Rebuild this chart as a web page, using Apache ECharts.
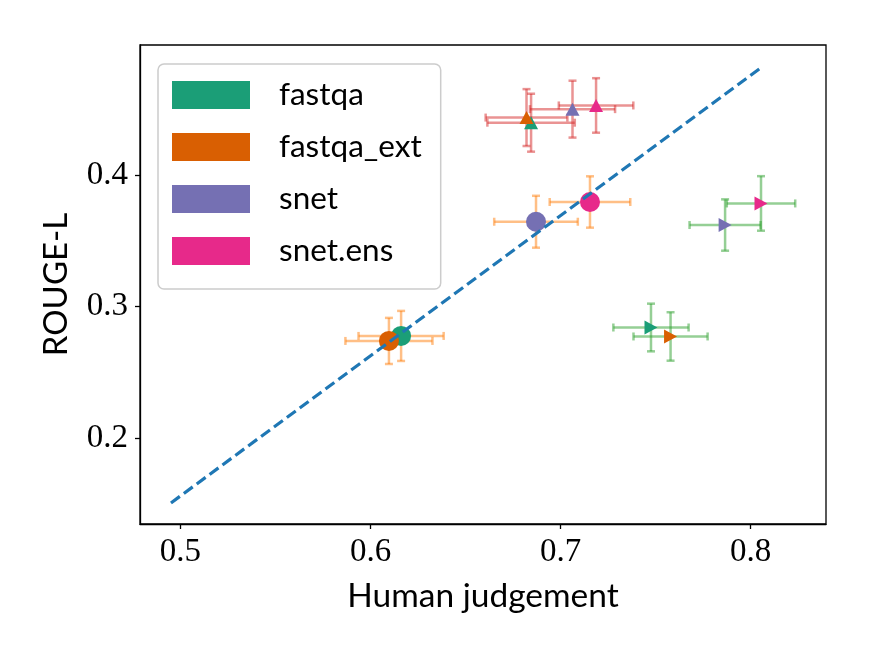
<!DOCTYPE html>
<html>
<head>
<meta charset="utf-8">
<script src="https://cdn.jsdelivr.net/npm/echarts@6/dist/echarts.min.js"></script>
<style>html,body{margin:0;padding:0;background:#fff}#c{width:871px;height:654px}</style>
</head>
<body>
<div id="c"></div>
<script>
// ---- data ----
const models = ['fastqa', 'fastqa_ext', 'snet', 'snet.ens'];
const modelColors = ['#1b9e77', '#d95f02', '#7570b3', '#e7298a'];

// circle markers (orange error bars)
const circleX = [0.6161, 0.6097, 0.6871, 0.7155];
const circleY = [0.2778, 0.2740, 0.3645, 0.3795];
const circleXErr = [0.0224, 0.0229, 0.0220, 0.0212];
const circleYErr = [0.0190, 0.0175, 0.0197, 0.0195];

// upward triangle markers (red error bars)
const triUpX = [0.6845, 0.6821, 0.7063, 0.7187];
const triUpY = [0.4397, 0.4436, 0.4500, 0.4528];
const triUpXErr = [0.0230, 0.0215, 0.0224, 0.0196];
const triUpYErr = [0.0220, 0.0216, 0.0216, 0.0207];

// right-pointing triangle markers (green error bars)
const triRightX = [0.7476, 0.7579, 0.7866, 0.8055];
const triRightY = [0.2842, 0.2774, 0.3620, 0.3784];
const triRightXErr = [0.0198, 0.0195, 0.0187, 0.0180];
const triRightYErr = [0.0181, 0.0184, 0.0195, 0.0207];

// diagonal reference line
const diagX = [0.495, 0.806];
const diagY = [0.151, 0.482];

const xTicks = [0.5, 0.6, 0.7, 0.8];
const yTicks = [0.2, 0.3, 0.4];

// ---- chart ----
const chart = echarts.init(document.getElementById('c'), null, {renderer: 'canvas'});

function errRender(color) {
  return function (params, api) {
    const x = api.value(0), y = api.value(1), xe = api.value(2), ye = api.value(3);
    const l = api.coord([x - xe, y]), r = api.coord([x + xe, y]);
    const t = api.coord([x, y + ye]), b = api.coord([x, y - ye]);
    const c = 4;
    const st = {stroke: color, lineWidth: 2.5, opacity: 0.5};
    const ln = (x1, y1, x2, y2) => ({type: 'line', shape: {x1, y1, x2, y2}, style: st});
    return {
      type: 'group',
      children: [
        ln(l[0], l[1], r[0], r[1]),
        ln(t[0], t[1], b[0], b[1]),
        ln(l[0], l[1] - c, l[0], l[1] + c),
        ln(r[0], r[1] - c, r[0], r[1] + c),
        ln(t[0] - c, t[1], t[0] + c, t[1]),
        ln(b[0] - c, b[1], b[0] + c, b[1])
      ]
    };
  };
}

function errData(xs, ys, xe, ye) {
  return xs.map((v, i) => [v, ys[i], xe[i], ye[i]]);
}

const series = [];
series.push({type: 'custom', name: 'err_circle', renderItem: errRender('#ff7f0e'),
  data: errData(circleX, circleY, circleXErr, circleYErr), encode: {x: 0, y: 1}, z: 1, silent: true});
series.push({type: 'custom', name: 'err_up', renderItem: errRender('#d62728'),
  data: errData(triUpX, triUpY, triUpXErr, triUpYErr), encode: {x: 0, y: 1}, z: 1, silent: true});
series.push({type: 'custom', name: 'err_right', renderItem: errRender('#2ca02c'),
  data: errData(triRightX, triRightY, triRightXErr, triRightYErr), encode: {x: 0, y: 1}, z: 1, silent: true});

models.forEach((m, i) => {
  series.push({
    type: 'scatter', name: m, z: 3,
    itemStyle: {color: modelColors[i], opacity: 1},
    data: [
      {value: [circleX[i], circleY[i]], symbol: 'circle', symbolSize: 20},
      {value: [triUpX[i], triUpY[i]], symbol: 'triangle', symbolSize: [14, 13]},
      {value: [triRightX[i], triRightY[i]], symbol: 'triangle', symbolSize: [14, 13], symbolRotate: -90}
    ]
  });
});

series.push({
  type: 'line', name: 'diag', z: 5, symbol: 'none', silent: true,
  data: diagX.map((v, i) => [v, diagY[i]]),
  lineStyle: {color: '#1f77b4', width: 3.2, type: [11, 5]}
});

const sans = 'Lato';
const serif = 'Liberation Serif';

chart.setOption({
  animation: false,
  backgroundColor: '#fff',
  grid: {left: 140, right: 45, top: 45, bottom: 130, show: true, borderColor: '#000', borderWidth: 1.3, backgroundColor: 'transparent'},
  legend: {
    data: models.map(m => ({name: m, icon: 'rect'})),
    orient: 'vertical', left: 158, top: 64,
    itemWidth: 78, itemHeight: 28, itemGap: 20,
    padding: [15, 19, 22, 14],
    borderColor: '#cccccc', borderWidth: 1.5, borderRadius: 6, backgroundColor: '#fff',
    selectedMode: false,
    textStyle: {fontFamily: sans, fontSize: 31.5, color: '#000', lineHeight: 28, padding: [0, 0, 0, 24]}
  },
  xAxis: {
    type: 'value', min: 0.4787, max: 0.8397,
    name: 'Human judgement', nameLocation: 'middle', nameGap: 55,
    nameTextStyle: {fontFamily: sans, fontSize: 33.5, color: '#000'},
    axisLine: {show: true, onZero: false, lineStyle: {color: '#000', width: 1.3}},
    axisTick: {show: true, length: 5, lineStyle: {color: '#000', width: 1.3}, customValues: xTicks},
    axisLabel: {fontFamily: serif, fontSize: 33, color: '#000', margin: 12, customValues: xTicks,
      formatter: v => v.toFixed(1)},
    splitLine: {show: false}
  },
  yAxis: {
    type: 'value', min: 0.135, max: 0.4987,
    name: 'ROUGE-L', nameLocation: 'middle', nameGap: 67,
    nameTextStyle: {fontFamily: sans, fontSize: 33, color: '#000'},
    axisLine: {show: true, onZero: false, lineStyle: {color: '#000', width: 1.3}},
    axisTick: {show: true, length: 5, lineStyle: {color: '#000', width: 1.3}, customValues: yTicks},
    axisLabel: {fontFamily: serif, fontSize: 33, color: '#000', margin: 12, customValues: yTicks,
      formatter: v => v.toFixed(1)},
    splitLine: {show: false}
  },
  series: series
});
</script>
</body>
</html>
